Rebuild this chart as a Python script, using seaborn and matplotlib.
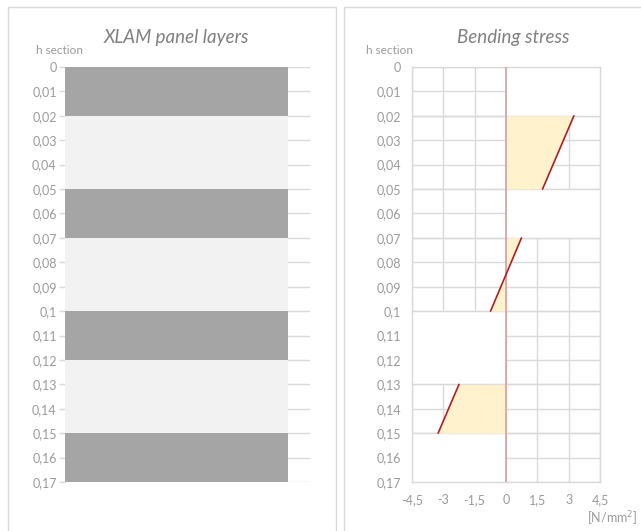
import matplotlib
matplotlib.use("Agg")
import matplotlib.pyplot as plt
from matplotlib.patches import Rectangle
import pandas as pd
import seaborn as sns

# Cross-section layers (depth from top face, m)
layer_top = [0.00, 0.02, 0.05, 0.07, 0.10, 0.12, 0.15]
layer_bottom = [0.02, 0.05, 0.07, 0.10, 0.12, 0.15, 0.17]
layer_kind = ["long", "cross", "long", "cross", "long", "cross", "long"]

# Bending stress in the loaded layers [N/mm2]
stress_depth_top = [0.02, 0.07, 0.13]
stress_depth_bottom = [0.05, 0.10, 0.15]
stress_top = [3.25, 0.74, -2.25]
stress_bottom = [1.75, -0.74, -3.25]

# Blank zones of the stress diagram (depth range and side of the zero line)
blank_top = [0.00, 0.05, 0.10, 0.15]
blank_bottom = [0.02, 0.07, 0.13, 0.17]
blank_side = [1, 1, -1, -1]

depth_ticks = [0.00, 0.01, 0.02, 0.03, 0.04, 0.05, 0.06, 0.07, 0.08,
               0.09, 0.10, 0.11, 0.12, 0.13, 0.14, 0.15, 0.16, 0.17]
depth_labels = ["0", "0,01", "0,02", "0,03", "0,04", "0,05", "0,06", "0,07",
                "0,08", "0,09", "0,1", "0,11", "0,12", "0,13", "0,14", "0,15",
                "0,16", "0,17"]
stress_ticks = [-4.5, -3, -1.5, 0, 1.5, 3, 4.5]
stress_labels = ["-4,5", "-3", "-1,5", "0", "1,5", "3", "4,5"]

sns.set_theme(style="white")
plt.rcParams["font.family"] = ["Lato", "DejaVu Sans"]
plt.rcParams["font.weight"] = "normal"

GRID = "#D9D9D9"
TXT = "#9A9A9A"
DARK = "#A5A5A5"
LIGHT = "#F2F2F2"
FILL = "#FFF2CC"
LINE = "#B01E23"
ZERO = "#D9A5A5"
TICK_FS = 9

W, H = 641, 531
fig = plt.figure(figsize=(W / 100, H / 100), dpi=100)


def fx(px):
    return px / W


def fy(py):
    return 1 - py / H


# chart frames
for x0, x1 in [(8, 336), (344, 645)]:
    fig.patches.append(Rectangle((fx(x0), fy(540)), fx(x1 - x0), fy(7) - fy(540),
                                 transform=fig.transFigure, fill=False,
                                 edgecolor=GRID, lw=1.0))

ax1 = fig.add_axes([fx(65), fy(482), fx(310 - 65), fy(67) - fy(482)])
ax2 = fig.add_axes([fx(412), fy(482), fx(600 - 412), fy(67) - fy(482)])

# ---- left: panel layers ----
colors = [DARK if k == "long" else LIGHT for k in layer_kind]
mids = [(a + b) / 2 for a, b in zip(layer_top, layer_bottom)]
thick = [b - a for a, b in zip(layer_top, layer_bottom)]
ax1.barh(mids, [1.0] * len(mids), height=thick, left=0, color=colors,
         edgecolor="none", zorder=2)
ax1.set_xlim(0, 1.1)
ax1.set_ylim(0.17, 0)
ax1.set_yticks(depth_ticks)
ax1.set_yticklabels(depth_labels)
ax1.set_xticks([])
ax1.grid(axis="y", color=GRID, lw=1.0, zorder=0)
ax1.set_axisbelow(True)
for s in ["left", "right", "top", "bottom"]:
    ax1.spines[s].set_visible(False)
ax1.tick_params(axis="y", left=True, length=4, width=1, color=GRID,
                labelsize=TICK_FS, labelcolor=TXT, pad=2)

# ---- right: bending stress ----
ax2.set_xlim(-4.5, 4.5)
ax2.set_ylim(0.17, 0)
ax2.set_xticks(stress_ticks)
ax2.set_xticklabels(stress_labels)
ax2.set_yticks(depth_ticks)
ax2.set_yticklabels(depth_labels)
ax2.grid(True, color=GRID, lw=1.0, zorder=0)
ax2.set_axisbelow(True)
for s in ["left", "right", "top", "bottom"]:
    ax2.spines[s].set_color(GRID)
    ax2.spines[s].set_linewidth(1.0)
ax2.tick_params(axis="both", length=0, labelsize=TICK_FS, labelcolor=TXT)
ax2.tick_params(axis="y", pad=8)
ax2.tick_params(axis="x", pad=9)

for t, b, side in zip(blank_top, blank_bottom, blank_side):
    ax2.fill_betweenx([t, b], 0, 4.5 * side, color="white", lw=0, zorder=1)
for yb in sorted(set(blank_top + blank_bottom) - {0.0, 0.17}):
    ax2.axhline(yb, color=GRID, lw=1.0, zorder=1.5)

for t, b, st, sb in zip(stress_depth_top, stress_depth_bottom, stress_top, stress_bottom):
    ax2.fill_betweenx([t, b], [st, sb], 0, color=FILL, lw=0, zorder=2)

ax2.axvline(0, color=ZERO, lw=1.3, zorder=3)

rows = []
for i, (t, b, st, sb) in enumerate(zip(stress_depth_top, stress_depth_bottom,
                                       stress_top, stress_bottom)):
    rows.append({"layer": i, "depth": t, "stress": st})
    rows.append({"layer": i, "depth": b, "stress": sb})
df = pd.DataFrame(rows)
sns.lineplot(data=df, x="stress", y="depth", units="layer", estimator=None,
             sort=False, color=LINE, lw=1.2, ax=ax2, zorder=4)
ax2.set_xlabel("")
ax2.set_ylabel("")
ax2.set_ylim(0.17, 0)

# ---- titles and axis captions ----
fig.text(fx(176), fy(37), "XLAM panel layers", ha="center", va="center",
         fontsize=13.5, style="italic", color="#808080")
fig.text(fx(513), fy(37), "Bending stress", ha="center", va="center",
         fontsize=13.5, style="italic", color="#808080")
fig.text(fx(59), fy(50), "h section", ha="center", va="center", fontsize=8.5,
         color=TXT)
fig.text(fx(390), fy(50), "h section", ha="center", va="center", fontsize=8.5,
         color=TXT)
fig.text(fx(637), fy(519), "[N/mm$^2$]", ha="right", va="center", fontsize=9,
         color=TXT)

fig.savefig("out.png", dpi=100)
